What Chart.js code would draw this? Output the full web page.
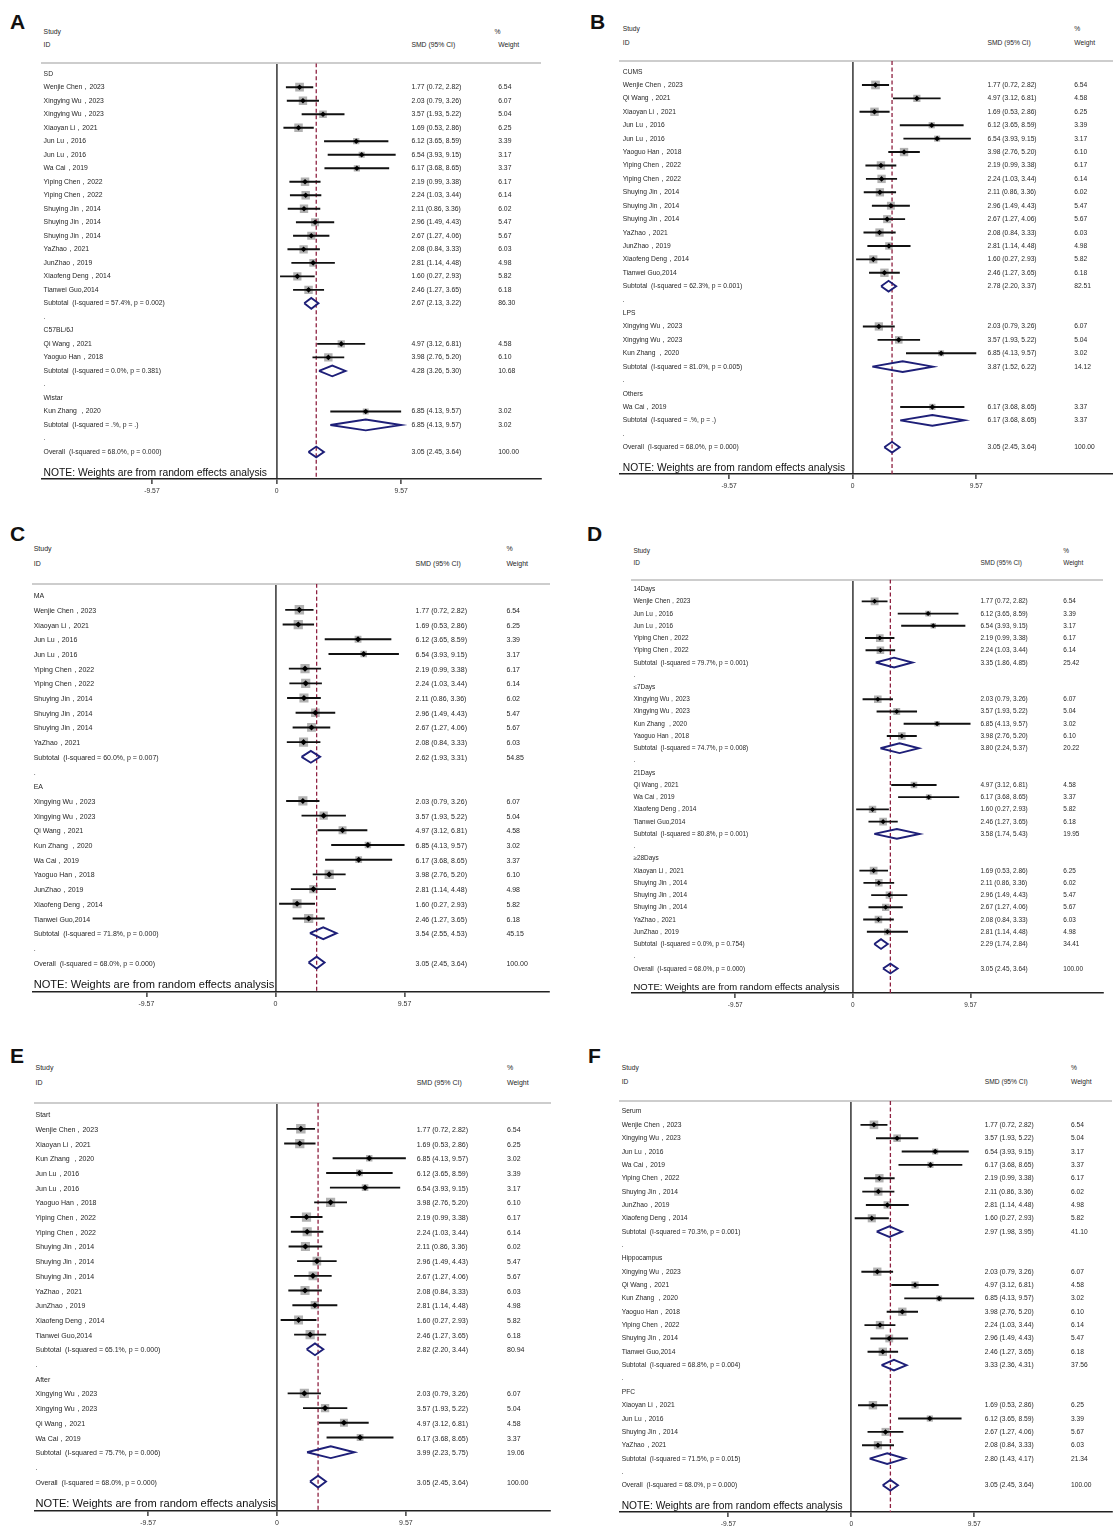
<!DOCTYPE html>
<html>
<head>
<meta charset="utf-8">
<script src="https://cdn.jsdelivr.net/npm/chart.js@4"></script>
<style>
  body { margin: 0; background: #fff; width: 1113px; height: 1531px; overflow: hidden; position: relative;
         font-family: "Liberation Sans", Arial, Helvetica, sans-serif; }
  canvas { position: absolute; }
  .t { position: absolute; white-space: pre; line-height: 1; color: #262626; transform: translateY(-50%); }
  .note { color: #111; }
  .letra { position: absolute; font-weight: bold; font-size: 21px; color: #111; line-height: 1; transform: translateY(-50%); }
</style>
</head>
<body>
<script>
// Estudos (mesma ordem de leitura do painel A/B)
const studyLabels = [
  "Wenjie Chen，2023", "Xingying Wu，2023", "Xingying Wu，2023", "Xiaoyan Li，2021",
  "Jun Lu，2016", "Jun Lu，2016", "Wa Cai，2019", "Yiping Chen，2022", "Yiping Chen，2022",
  "Shuying Jin，2014", "Shuying Jin，2014", "Shuying Jin，2014", "YaZhao，2021",
  "JunZhao，2019", "Xiaofeng Deng，2014", "Tianwei Guo,2014", "Qi Wang，2021",
  "Yaoguo Han，2018", "Kun Zhang ，2020"
];
const smd     = [1.77, 2.03, 3.57, 1.69, 6.12, 6.54, 6.17, 2.19, 2.24, 2.11, 2.96, 2.67, 2.08, 2.81, 1.60, 2.46, 4.97, 3.98, 6.85];
const ciLow   = [0.72, 0.79, 1.93, 0.53, 3.65, 3.93, 3.68, 0.99, 1.03, 0.86, 1.49, 1.27, 0.84, 1.14, 0.27, 1.27, 3.12, 2.76, 4.13];
const ciHigh  = [2.82, 3.26, 5.22, 2.86, 8.59, 9.15, 8.65, 3.38, 3.44, 3.36, 4.43, 4.06, 3.33, 4.48, 2.93, 3.65, 6.81, 5.20, 9.57];
const weights = [6.54, 6.07, 5.04, 6.25, 3.39, 3.17, 3.37, 6.17, 6.14, 6.02, 5.47, 5.67, 6.03, 4.98, 5.82, 6.18, 4.58, 6.10, 3.02];

const overallSmd = [3.05, 2.45, 3.64];
const overallWeight = 100.00;
const overallHet = "68.0%, p = 0.000";
const xTicks = [-9.57, 0, 9.57];

// A - modelo
const groupsA = ["SD", "C57BL/6J", "Wistar"];
const membersA = [[0, 1, 2, 3, 4, 5, 6, 7, 8, 9, 10, 11, 12, 13, 14, 15], [16, 17], [18]];
const subtotalA = [[2.67, 2.13, 3.22], [4.28, 3.26, 5.30], [6.85, 4.13, 9.57]];
const subWeightA = [86.30, 10.68, 3.02];
const hetA = ["57.4%, p = 0.002", "0.0%, p = 0.381", ".%, p = ."];

// B - inducao
const groupsB = ["CUMS", "LPS", "Others"];
const membersB = [[0, 16, 3, 4, 5, 17, 7, 8, 9, 10, 11, 12, 13, 14, 15], [1, 2, 18], [6]];
const subtotalB = [[2.78, 2.20, 3.37], [3.87, 1.52, 6.22], [6.17, 3.68, 8.65]];
const subWeightB = [82.51, 14.12, 3.37];
const hetB = ["62.3%, p = 0.001", "81.0%, p = 0.005", ".%, p = ."];

// C - tipo de acupuntura
const groupsC = ["MA", "EA"];
const membersC = [[0, 3, 4, 5, 7, 8, 9, 10, 11, 12], [1, 2, 16, 18, 6, 17, 13, 14, 15]];
const subtotalC = [[2.62, 1.93, 3.31], [3.54, 2.55, 4.53]];
const subWeightC = [54.85, 45.15];
const hetC = ["60.0%, p = 0.007", "71.8%, p = 0.000"];

// D - duracao
const groupsD = ["14Days", "≤7Days", "21Days", "≥28Days"];
const membersD = [[0, 4, 5, 7, 8], [1, 2, 18, 17], [16, 6, 14, 15], [3, 9, 10, 11, 12, 13]];
const subtotalD = [[3.35, 1.86, 4.85], [3.80, 2.24, 5.37], [3.58, 1.74, 5.43], [2.29, 1.74, 2.84]];
const subWeightD = [25.42, 20.22, 19.95, 34.41];
const hetD = ["79.7%, p = 0.001", "74.7%, p = 0.008", "80.8%, p = 0.001", "0.0%, p = 0.754"];

// E - momento
const groupsE = ["Start", "After"];
const membersE = [[0, 3, 18, 4, 5, 17, 7, 8, 9, 10, 11, 12, 13, 14, 15], [1, 2, 16, 6]];
const subtotalE = [[2.82, 2.20, 3.44], [3.99, 2.23, 5.75]];
const subWeightE = [80.94, 19.06];
const hetE = ["65.1%, p = 0.000", "75.7%, p = 0.006"];

// F - tecido
const groupsF = ["Serum", "Hippocampus", "PFC"];
const membersF = [[0, 2, 5, 6, 7, 9, 13, 14], [1, 16, 18, 17, 8, 10, 15], [3, 4, 11, 12]];
const subtotalF = [[2.97, 1.98, 3.95], [3.33, 2.36, 4.31], [2.80, 1.43, 4.17]];
const subWeightF = [41.10, 37.56, 21.34];
const hetF = ["70.3%, p = 0.001", "68.8%, p = 0.004", "71.5%, p = 0.015"];

// posicoes de cada painel na pagina
const paineis = [
  { letra: "A", lx: 10, ly: 21, zeroX: 275.7, ppu: 13.34, row0: 71.7, pitch: 13.59, labelX: 43.6, smdX: 411.4, wtX: 498.2, pctX: 494.6, studyY: 31.7, idY: 45, font: 6.8, note: 10.3,
    dados: [groupsA, membersA, subtotalA, subWeightA, hetA] },
  { letra: "B", lx: 590, ly: 21, zeroX: 852.8, ppu: 13.24, row0: 70, pitch: 13.49, labelX: 622.8, smdX: 987.5, wtX: 1074.3, pctX: 1074.3, studyY: 29.3, idY: 42.7, font: 6.7, note: 10.26,
    dados: [groupsB, membersB, subtotalB, subWeightB, hetB] },
  { letra: "C", lx: 10, ly: 533, zeroX: 275.2, ppu: 13.84, row0: 592.3, pitch: 14.8, labelX: 33.7, smdX: 415.6, wtX: 506.4, pctX: 506.4, studyY: 548.3, idY: 562.7, font: 7.0, note: 11.1,
    dados: [groupsC, membersC, subtotalC, subWeightC, hetC] },
  { letra: "D", lx: 587, ly: 533, zeroX: 852.6, ppu: 12.58, row0: 588, pitch: 12.28, labelX: 633.4, smdX: 980.5, wtX: 1063.3, pctX: 1063.3, studyY: 551, idY: 563.3, font: 6.45, note: 9.5,
    dados: [groupsD, membersD, subtotalD, subWeightD, hetD] },
  { letra: "E", lx: 10, ly: 1055, zeroX: 276.2, ppu: 13.8, row0: 1111.7, pitch: 14.8, labelX: 35.5, smdX: 416.7, wtX: 507, pctX: 507, studyY: 1067.3, idY: 1082, font: 7.0, note: 11.1,
    dados: [groupsE, membersE, subtotalE, subWeightE, hetE] },
  { letra: "F", lx: 588, ly: 1055, zeroX: 850.8, ppu: 13.15, row0: 1109, pitch: 13.43, labelX: 621.7, smdX: 984.8, wtX: 1071, pctX: 1071, studyY: 1068.3, idY: 1082, font: 6.67, note: 10.2,
    dados: [groupsF, membersF, subtotalF, subWeightF, hetF] }
];

const X_MIN = -18, X_MAX = 20.3, Y_TOP = -0.78, PAD_TOP = 4, EIXO_H = 24;
const FONTE = '"Liberation Sans", Arial, Helvetica, sans-serif';
const fmt = v => v.toFixed(2);

function montarLinhas(groups, members, subtotal, subWeight, het) {
  const linhas = [];
  let r = 0;
  groups.forEach((g, gi) => {
    linhas.push({ row: r++, tipo: "grupo", label: g });
    members[gi].forEach(i => {
      linhas.push({ row: r++, tipo: "estudo", label: studyLabels[i], est: smd[i], lo: ciLow[i], hi: ciHigh[i], w: weights[i] });
    });
    const s = subtotal[gi];
    linhas.push({ row: r++, tipo: "sub", label: "Subtotal  (I-squared = " + het[gi] + ")", est: s[0], lo: s[1], hi: s[2], w: subWeight[gi] });
    linhas.push({ row: r++, tipo: "ponto", label: "." });
  });
  linhas.push({ row: r, tipo: "sub", label: "Overall  (I-squared = " + overallHet + ")",
    est: overallSmd[0], lo: overallSmd[1], hi: overallSmd[2], w: overallWeight });
  return linhas;
}

function texto(txt, x, y, size, extra) {
  const d = document.createElement("div");
  d.className = "t" + (extra ? " " + extra : "");
  d.textContent = txt;
  d.style.left = x + "px";
  d.style.top = y + "px";
  d.style.fontSize = size + "px";
  document.body.appendChild(d);
}

function desenharPainel(p) {
  const linhas = montarLinhas(...p.dados);
  const ultima = linhas[linhas.length - 1].row;
  const yMax = ultima + 2;
  const escala = p.pitch / 13.59;

  const left = Math.round(p.zeroX + X_MIN * p.ppu);
  const largura = Math.round((X_MAX - X_MIN) * p.ppu);
  const areaTop = Math.round(p.row0 + Y_TOP * p.pitch);
  const areaH = Math.round((yMax - Y_TOP) * p.pitch);
  const top = areaTop - PAD_TOP;

  const canvas = document.createElement("canvas");
  canvas.width = largura;
  canvas.height = PAD_TOP + areaH + EIXO_H;
  canvas.style.left = left + "px";
  canvas.style.top = top + "px";
  canvas.style.width = largura + "px";
  canvas.style.height = canvas.height + "px";
  document.body.appendChild(canvas);

  const estudos = linhas.filter(l => l.tipo === "estudo");
  const subs = linhas.filter(l => l.tipo === "sub");

  const quadrados = estudos.map(l => ({ x: l.est, y: l.row }));
  const raios = estudos.map(l => 3.4 * escala * Math.sqrt(l.w) / (2 * Math.SQRT1_2));
  const marcas = estudos.map(l => ({ x: l.est, y: l.row }));

  const ics = [];
  estudos.forEach(l => { ics.push({ x: l.lo, y: l.row }, { x: l.hi, y: l.row }, { x: null, y: null }); });

  const losangos = [];
  subs.forEach(l => {
    losangos.push({ x: l.lo, y: l.row }, { x: l.est, y: l.row - 0.4 }, { x: l.hi, y: l.row },
                  { x: l.est, y: l.row + 0.4 }, { x: l.lo, y: l.row }, { x: null, y: null });
  });

  const referencia = [{ x: overallSmd[0], y: Y_TOP }, { x: overallSmd[0], y: yMax }];

  const chart = new Chart(canvas, {
    type: "scatter",
    data: {
      datasets: [
        { data: marcas, pointStyle: "rectRot", pointRadius: 2.8 * escala, pointBackgroundColor: "#000", pointBorderWidth: 0 },
        { data: ics, showLine: true, borderColor: "#111", borderWidth: 1.9, pointRadius: 0, spanGaps: false, borderCapStyle: "butt" },
        { data: losangos, showLine: true, borderColor: "#1e1f78", borderWidth: 1.9, pointRadius: 0, spanGaps: false, borderJoinStyle: "miter" },
        { data: referencia, showLine: true, borderColor: "#8e2040", borderWidth: 1.3, borderDash: [4, 2.5], pointRadius: 0 },
        { data: quadrados, pointStyle: "rect", pointRadius: raios, pointBackgroundColor: "#b2b2b2", pointBorderWidth: 0 }
      ]
    },
    options: {
      responsive: false,
      animation: false,
      events: [],
      layout: { padding: { top: PAD_TOP, left: 0, right: 0, bottom: 0 } },
      plugins: { legend: { display: false }, tooltip: { enabled: false } },
      scales: {
        x: {
          type: "linear", position: "bottom", min: X_MIN, max: X_MAX,
          afterBuildTicks: s => { s.ticks = xTicks.map(v => ({ value: v })); },
          afterFit: s => { s.height = EIXO_H; },
          ticks: { autoSkip: false, maxRotation: 0, padding: 3, color: "#333",
                   font: { family: FONTE, size: p.font },
                   callback: v => v === 0 ? "0" : v.toFixed(2) },
          grid: { color: c => (c.tick && c.tick.value === 0) ? "#555" : "rgba(0,0,0,0)",
                  lineWidth: 1.8, tickLength: 5, tickColor: "#222", tickWidth: 1.3 },
          border: { display: true, color: "#222", width: 1.5 }
        },
        x2: {
          type: "linear", position: "top", min: X_MIN, max: X_MAX,
          afterFit: s => { s.height = 0; },
          ticks: { display: false }, grid: { display: false },
          border: { display: true, color: "#cdcdcd", width: 2 }
        },
        y: { type: "linear", display: false, reverse: true, min: Y_TOP, max: yMax }
      }
    }
  });

  // textos das colunas, alinhados pela escala y
  const yPix = r => top + chart.scales.y.getPixelForValue(r);
  linhas.forEach(l => {
    texto(l.label, p.labelX, yPix(l.row), p.font);
    if (l.est !== undefined) {
      texto(fmt(l.est) + " (" + fmt(l.lo) + ", " + fmt(l.hi) + ")", p.smdX, yPix(l.row), p.font);
      texto(fmt(l.w), p.wtX, yPix(l.row), p.font);
    }
  });
  texto("Study", p.labelX, p.studyY, p.font);
  texto("ID", p.labelX, p.idY, p.font);
  texto("SMD (95% CI)", p.smdX, p.idY, p.font);
  texto("%", p.pctX, p.studyY, p.font);
  texto("Weight", p.wtX, p.idY, p.font);

  const eixoY = top + chart.chartArea.bottom;
  texto("NOTE: Weights are from random effects analysis", p.labelX, eixoY - 0.62 * p.note, p.note, "note");

  const letra = document.createElement("div");
  letra.className = "letra";
  letra.textContent = p.letra;
  letra.style.left = p.lx + "px";
  letra.style.top = p.ly + "px";
  document.body.appendChild(letra);
}

paineis.forEach(desenharPainel);
</script>
</body>
</html>
